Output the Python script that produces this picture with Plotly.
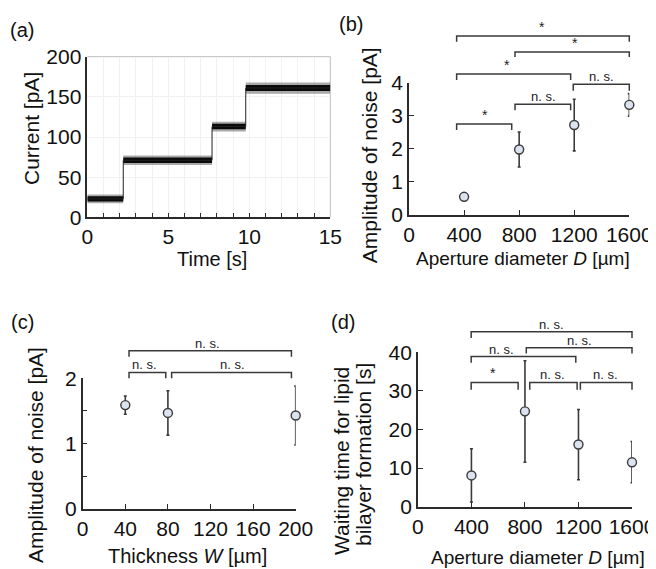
import plotly.graph_objects as go

# ---------------- data ----------------
# (a) current trace: step levels with noise band
seg_start_s = [0.0, 2.22, 7.70, 9.78]
seg_end_s = [2.22, 7.70, 9.78, 15.0]
seg_level_pA = [23, 71, 113, 161]
noise_core_pA = [3.2, 3.5, 3.5, 3.8]     # dense part (half width)
noise_spike_pA = [5.5, 6.0, 6.0, 7.0]    # occasional spikes (half width)

# (b) noise vs aperture diameter
b_D = [400, 800, 1200, 1600]
b_noise = [0.55, 1.98, 2.72, 3.33]
b_err = [0.0, 0.53, 0.78, 0.34]

# (c) noise vs thickness
c_W = [40, 80, 200]
c_noise = [1.59, 1.47, 1.43]
c_err = [0.14, 0.34, 0.45]

# (d) waiting time vs aperture diameter
d_D = [400, 800, 1200, 1600]
d_wait = [8.1, 24.7, 16.1, 11.5]
d_err_plus = [6.9, 13.1, 9.1, 5.4]
d_err_minus = [6.9, 13.2, 9.1, 5.3]

# significance brackets: (x0, x1, y_bar, y_tip, label, label_x)
b_brackets = [
    (346, 746, 2.75, 2.57, "*", 552),
    (770, 1174, 3.35, 3.17, "n. s.", 974),
    (1193, 1600, 3.95, 3.76, "n. s.", 1398),
    (346, 1174, 4.26, 4.08, "*", 709),
    (770, 1600, 4.93, 4.78, "*", 1205),
    (346, 1600, 5.41, 5.24, "*", 965),
]
c_brackets = [
    (43.5, 78, 2.09, 2.00, "n. s.", 58),
    (83.5, 196, 2.09, 2.00, "n. s.", 141),
    (43.5, 196, 2.42, 2.33, "n. s.", 117),
]
d_brackets = [
    (398, 749, 32.2, 30.3, "*", 560),
    (836, 1190, 32.2, 30.3, "n. s.", 1005),
    (1214, 1600, 32.2, 30.3, "n. s.", 1405),
    (398, 1180, 38.9, 37.3, "n. s.", 623),
    (810, 1600, 41.2, 39.7, "n. s.", 1206),
    (398, 1600, 45.3, 43.7, "n. s.", 995),
]

# ---------------- layout constants ----------------
FONT = "Liberation Sans, Arial, Helvetica, sans-serif"
PAGE_MARGIN = 8            # default body margin of the html page
W, H = 656 - PAGE_MARGIN, 569 - PAGE_MARGIN
AX = "#2b2b2b"
MK_FILL = "#dbe3ef"
TICK_SIZE = 21


def PX(px):   # window pixel -> paper x
    return (px - PAGE_MARGIN) / W


def PY(py):   # window pixel -> paper y
    return 1 - (py - PAGE_MARGIN) / H


panels = {
    "a": dict(xa="x", ya="y", xdom=[PX(87.3), PX(330.3)], ydom=[PY(217.3), PY(56.7)], xr=[0, 15], yr=[0, 200]),
    "b": dict(xa="x2", ya="y2", xdom=[PX(409), PX(629.3)], ydom=[PY(215), PY(82.7)], xr=[0, 1600], yr=[0, 4]),
    "c": dict(xa="x3", ya="y3", xdom=[PX(82.7), PX(295.7)], ydom=[PY(509), PY(378.3)], xr=[0, 200], yr=[0, 2]),
    "d": dict(xa="x4", ya="y4", xdom=[PX(417.9), PX(632)], ydom=[PY(506.7), PY(352.3)], xr=[0, 1600], yr=[0, 40]),
}

fig = go.Figure()

# ---- (a) trace ----
for s, e, lv, nc, ns in zip(seg_start_s, seg_end_s, seg_level_pA, noise_core_pA, noise_spike_pA):
    fig.add_trace(go.Scatter(x=[s, e, e, s, s], y=[lv - ns, lv - ns, lv + ns, lv + ns, lv - ns],
                             fill="toself", fillcolor="rgba(40,40,40,0.40)", line=dict(width=0),
                             mode="lines", xaxis="x", yaxis="y", showlegend=False, hoverinfo="skip"))
    fig.add_trace(go.Scatter(x=[s, e, e, s, s], y=[lv - nc, lv - nc, lv + nc, lv + nc, lv - nc],
                             fill="toself", fillcolor="#0a0a0a", line=dict(width=0),
                             mode="lines", xaxis="x", yaxis="y", showlegend=False, hoverinfo="skip"))
# thin transitions between steps
fig.add_trace(go.Scatter(x=seg_start_s + [seg_end_s[-1]], y=seg_level_pA + [seg_level_pA[-1]],
                         mode="lines", line=dict(color="#222", width=1, shape="hv"),
                         xaxis="x", yaxis="y", showlegend=False, hoverinfo="skip"))


def points(x, y, eplus, eminus, xa, ya):
    fig.add_trace(go.Scatter(
        x=x, y=y, mode="markers", xaxis=xa, yaxis=ya, showlegend=False, cliponaxis=False,
        marker=dict(size=9, color=MK_FILL, line=dict(color="#3a3a3a", width=1.4)),
        error_y=dict(type="data", array=eplus, arrayminus=eminus, color="#3a3a3a",
                     thickness=1.6, width=1.5, visible=True)))


points(b_D, b_noise, b_err, b_err, "x2", "y2")
points(c_W, c_noise, c_err, c_err, "x3", "y3")
points(d_D, d_wait, d_err_plus, d_err_minus, "x4", "y4")

shapes = []
annotations = []


def dfrac(v, r):
    return (v - r[0]) / (r[1] - r[0])


def add_brackets(p, brackets, fsize):
    xr, yr = p["xr"], p["yr"]
    xref = p["xa"] + " domain"
    yref = p["ya"] + " domain"
    for x0, x1, yb, yt, lab, lx in brackets:
        X0, X1 = dfrac(x0, xr), dfrac(x1, xr)
        YB, YT = dfrac(yb, yr), dfrac(yt, yr)
        shapes.append(dict(type="path", xref=xref, yref=yref,
                           path=f"M {X0} {YT} L {X0} {YB} L {X1} {YB} L {X1} {YT}",
                           line=dict(color="#3a3a3a", width=1.5)))
        if lab == "*":
            annotations.append(dict(x=dfrac(lx, xr), y=YB, xref=xref, yref=yref, text="*",
                                    showarrow=False, xanchor="center", yanchor="bottom", yshift=-1,
                                    font=dict(size=fsize + 1, color="#222", family=FONT)))
        else:
            annotations.append(dict(x=dfrac(lx, xr), y=YB, xref=xref, yref=yref, text=lab,
                                    showarrow=False, xanchor="center", yanchor="bottom", yshift=-2,
                                    font=dict(size=fsize, color="#222", family=FONT)))


add_brackets(panels["b"], b_brackets, 13)
add_brackets(panels["c"], c_brackets, 13)
add_brackets(panels["d"], d_brackets, 13)

# (a) light frame on top/right
shapes.append(dict(type="path", xref="x domain", yref="y domain", path="M 0 1 L 1 1 L 1 0",
                   line=dict(color="#bdbdbd", width=1), layer="below"))


# axis titles and panel labels (positions in window pixels)
def txt(x, y, s, size, angle=0):
    annotations.append(dict(x=PX(x), y=PY(y), xref="paper", yref="paper", text=s, showarrow=False,
                            xanchor="center", yanchor="middle", textangle=angle,
                            font=dict(size=size, color="#111", family=FONT)))


txt(211.7, 259, "Time [s]", 20)
txt(31, 129, "Current [pA]", 21, -90)
txt(522.5, 258.7, "Aperture diameter <i>D</i> [µm]", 19)
txt(369.5, 155.8, "Amplitude of noise [pA]", 21, -90)
txt(187.5, 556, "Thickness <i>W</i> [µm]", 20)
txt(35, 455, "Amplitude of noise [pA]", 21, -90)
txt(538, 557, "Aperture diameter <i>D</i> [µm]", 19)
txt(341, 461, "Waiting time for lipid", 21, -90)
txt(363, 455, "bilayer formation [s]", 21, -90)
txt(22, 30, "(a)", 20)
txt(350.5, 24, "(b)", 20)
txt(22, 322, "(c)", 20)
txt(343, 322, "(d)", 20)


def axis(dom, rng, tickvals, ticktext, anchor, ticklen=5, grid=False):
    return dict(domain=dom, range=rng, anchor=anchor, showline=True, linecolor=AX, linewidth=1.5,
                ticks="inside", ticklen=ticklen, tickwidth=1.3, tickcolor=AX, automargin=False,
                ticklabeloverflow="allow",
                tickvals=tickvals, ticktext=ticktext,
                tickfont=dict(size=TICK_SIZE, color="#111", family=FONT),
                showgrid=grid, gridcolor="#f1f1f1", gridwidth=1, zeroline=False, fixedrange=True)


a_xticks = list(range(0, 16))
a_xtext = [str(v) if v % 5 == 0 else "" for v in a_xticks]
layout = dict(
    template="none",
    width=W, height=H, margin=dict(l=0, r=0, t=0, b=0, pad=0),
    paper_bgcolor="white", plot_bgcolor="white", showlegend=False,
    font=dict(family=FONT, color="#111"),
    xaxis=axis(panels["a"]["xdom"], [0, 15], a_xticks, a_xtext, "y", grid=True),
    yaxis=axis(panels["a"]["ydom"], [0, 200], [0, 50, 100, 150, 200], ["0", "50", "100", "150", "200"], "x", ticklen=0, grid=True),
    xaxis2=axis(panels["b"]["xdom"], [0, 1600], [0, 400, 800, 1200, 1600], ["0", "400", "800", "1200", "1600"], "y2"),
    yaxis2=axis(panels["b"]["ydom"], [0, 4], [0, 1, 2, 3, 4], ["0", "1", "2", "3", "4"], "x2"),
    xaxis3=axis(panels["c"]["xdom"], [0, 200], [0, 40, 80, 120, 160, 200], ["0", "40", "80", "120", "160", "200"], "y3"),
    yaxis3=axis(panels["c"]["ydom"], [0, 2], [0, 0.5, 1, 1.5, 2], ["0", "", "1", "", "2"], "x3"),
    xaxis4=axis(panels["d"]["xdom"], [0, 1600], [0, 400, 800, 1200, 1600], ["0", "400", "800", "1200", "1600"], "y4"),
    yaxis4=axis(panels["d"]["ydom"], [0, 40], [0, 10, 20, 30, 40], ["0", "10", "20", "30", "40"], "x4"),
    shapes=shapes, annotations=annotations,
)
fig.update_layout(**layout)
fig.write_html("out.html")
